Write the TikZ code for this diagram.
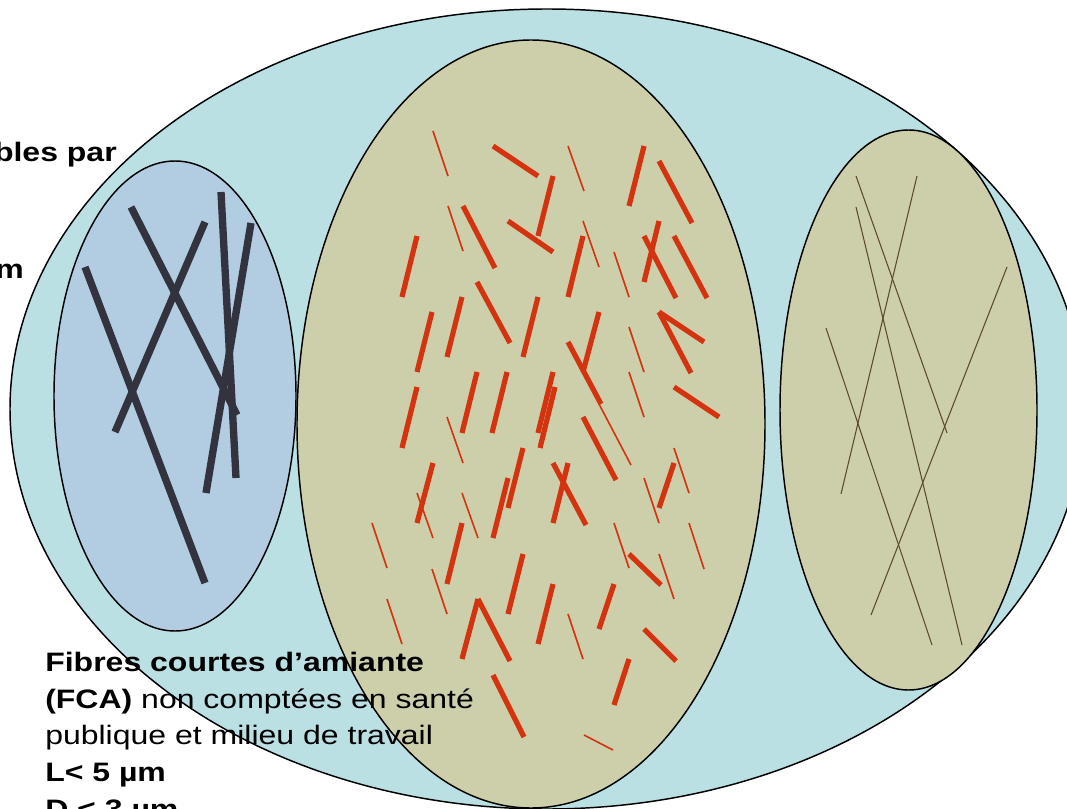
\documentclass[tikz,border=0pt]{standalone}
\usepackage{fontspec}
\setmainfont{Liberation Sans}[FakeStretch=1.2]
\usepackage{xcolor}
\usepackage{tikz}

\definecolor{airblue}{HTML}{BAE0E3}
\definecolor{longblue}{HTML}{B2CDE1}
\definecolor{khaki}{HTML}{CDCFAA}
\definecolor{fibrered}{HTML}{D4330F}
\definecolor{fibredark}{HTML}{33323F}
\definecolor{fibrebrown}{HTML}{5C4A2E}

\tikzset{
  rim/.style={draw=black, line width=1.1pt},
  fcathick/.style={draw=fibrered, line width=3.9pt},
  fcathin/.style={draw=fibrered, line width=1.2pt},
  flong/.style={draw=fibredark, line width=5.5pt},
  ffine/.style={draw=fibrebrown, line width=0.8pt},
  txt/.style={inner sep=0pt, font=\fontsize{20}{27.5}\selectfont}
}

\begin{document}
\begin{tikzpicture}[x=0.75pt, y=-0.75pt]
        \useasboundingbox (0,0) rectangle (1067,809);
        \clip (0,0) rectangle (1067,809);

        % Drawing the ellipses
        \draw[rim, fill=airblue] (547,409) ellipse [x radius=537, y radius=400];
        \draw[rim, fill=longblue] (175,396) ellipse [x radius=121, y radius=235];
        \draw[rim, fill=khaki] (531,424) ellipse [x radius=234, y radius=384];
        \draw[rim, fill=khaki] (908.5,410) ellipse [x radius=128.5, y radius=280];

        % Long fibres
        \foreach \xa/\ya/\xb/\yb in {85/267/205/583, 131/207/237/415, 205/222/115/432,
                           221/192/236/478, 251/223/206/493}
          {\draw[flong] (\xa,\ya) -- (\xb,\yb);}

        % Thin fibres, right
        \foreach \xa/\ya/\xb/\yb in {856/176/947/433, 917/176/841/494, 856/207/962/645,
                           826/328/932/645, 1007/267/871/615}
          {\draw[ffine] (\xa,\ya) -- (\xb,\yb);}

        % Short fibres
        \foreach \xa/\ya/\xb/\yb in {493/146/538/176, 644/146/629/206, 659/161/692/223,
            553/176/538/236, 463/206/495/268, 508/221/553/252, 659/221/644/282,
            644/236/676/298, 674/236/707/298, 417/236/402/297, 583/236/568/297,
            477/282/510/343, 462/297/447/357, 538/297/523/357, 432/312/417/372,
            599/312/583/372, 568/342/601/404, 659/312/691/373, 659/312/704/342,
            674/387/719/417, 417/387/402/448, 477/372/462/433, 507/372/492/433,
            553/372/538/433, 555/387/540/448, 583/417/616/480, 433/463/417/523,
            523/448/508/508, 508/478/493/538, 553/463/586/525, 568/463/553/523,
            674/463/659/508, 462/523/447/584, 629/554/661/585, 523/554/508/614,
            553/584/538/644, 614/584/599/629, 478/599/462/659, 478/599/510/661,
            644/629/676/661, 629/659/614/705, 493/675/524/737}
          {\draw[fcathick] (\xa,\ya) -- (\xb,\yb);}
        \foreach \xa/\ya/\xb/\yb in {433/131/448/176, 568/146/584/191, 448/206/463/251,
            583/221/599/267, 614/252/629/297, 629/327/644/372, 629/372/644/417,
            599/404/631/465, 447/417/463/463, 417/493/433/538, 462/493/478/538,
            644/478/659/523, 674/448/689/493, 372/523/387/568, 432/569/447/614,
            614/523/629/568, 659/554/674/599, 689/523/704/569, 387/599/402/644,
            568/614/583/659, 584/735/613/750}
          {\draw[fcathin] (\xa,\ya) -- (\xb,\yb);}

        % Text
        \node[txt, anchor=base east] (cut1) at (117,162) {\bfseries bles par};
        \node[txt, anchor=base east] (cut2) at (24,278) {\bfseries m};
        \node[txt, anchor=base west] (fca1) at (45,671) {\bfseries Fibres courtes d’amiante};
        \node[txt, anchor=base west] (fca2) at (45,708) {\textbf{(FCA)} non comptées en santé};
        \node[txt, anchor=base west] (fca3) at (45,744.5) {publique et milieu de travail};
        \node[txt, anchor=base west] (fca4) at (45,781) {\bfseries L< 5 µm};
        \node[txt, anchor=base west] (fca5) at (45,818) {\bfseries D < 3 µm};
    \end{tikzpicture}
\end{document}
